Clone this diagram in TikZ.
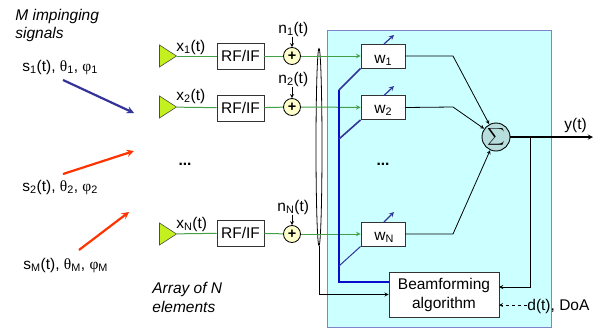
\documentclass[tikz,border=0pt]{standalone}
\usepackage{fontspec}
\setmainfont{Liberation Sans}
\newfontfamily\greekfont{Liberation Serif}
\usetikzlibrary{shapes.geometric}
\definecolor{panelfill}{HTML}{CCFFFF}
\definecolor{panelline}{HTML}{7F85CC}
\definecolor{antfill}{HTML}{C4F020}
\definecolor{sigline}{HTML}{44A044}
\definecolor{addfill}{HTML}{FFFFCC}
\definecolor{sumfill}{HTML}{B8DDDD}
\definecolor{busblue}{HTML}{0A0ACC}
\definecolor{tuneblue}{HTML}{333399}
\definecolor{rayred}{HTML}{FF3300}
\newcommand{\thta}{{\greekfont θ}}
\newcommand{\phii}{{\greekfont φ}}
\begin{document}
\begin{tikzpicture}
  [x=1pt,y=-1pt,>=stealth,line width=.8pt,
   every node/.style={font=\fontsize{15.5}{19}\selectfont},
   lbl/.style={anchor=base west,inner sep=0pt},
   ant/.style={isosceles triangle,isosceles triangle stretches,shape border rotate=0,draw=black!70,line width=.6pt,fill=antfill,minimum width=22pt,minimum height=17pt,inner sep=0pt},
   rfbox/.style={draw=black!80,fill=white,line width=.9pt,minimum width=47pt,minimum height=26pt,inner sep=0pt},
   wbox/.style={draw=black!80,fill=white,line width=.9pt,minimum width=44pt,minimum height=24pt,inner sep=0pt},
   adder/.style={circle,draw=black,fill=addfill,minimum size=17pt,inner sep=0pt},
   sig/.style={->,sigline,line width=1pt},
   ray/.style={->,line width=2.2pt},
   tune/.style={->,tuneblue,line width=1.2pt}]
  \useasboundingbox (0,0) rectangle (595,327);
  \node (panel)[draw=panelline,fill=panelfill,line width=1pt,minimum width=224pt,minimum height=297pt,inner sep=0pt] at (439,178.5) {};

  % antennas and front end
  \node (a1)[ant] at (165.5,56) {};
  \node (a2)[ant] at (165.5,107) {};
  \node (aN)[ant] at (165.5,234) {};
  \node (rf1)[rfbox] at (240.5,56) {RF/IF};
  \node (rf2)[rfbox] at (240.5,108) {RF/IF};
  \node (rfN)[rfbox] at (240.5,233) {RF/IF};
  \node (add1)[adder] at (292,56) {\Large\textbf{+}};
  \node (add2)[adder] at (292,107) {\Large\textbf{+}};
  \node (addN)[adder] at (292,234) {\Large\textbf{+}};
  \node (n1)[lbl] at (278,33) {n\textsubscript{1}(t)};
  \node (n2)[lbl] at (278,83) {n\textsubscript{2}(t)};
  \node (nN)[lbl] at (277,211) {n\textsubscript{N}(t)};
  \node (x1)[lbl] at (176,51) {x\textsubscript{1}(t)};
  \node (x2)[lbl] at (176,100) {x\textsubscript{2}(t)};
  \node (xN)[lbl] at (176,228) {x\textsubscript{N}(t)};

  % weights and combiner
  \node (w1)[wbox] at (383,56) {};
  \node (w2)[wbox] at (383,107.5) {};
  \node (wN)[wbox] at (383,234) {};
  \node (w1t)[lbl] at (374,63) {w\textsubscript{1}};
  \node (w2t)[lbl] at (374,113) {w\textsubscript{2}};
  \node (wNt)[lbl] at (374,240) {w\textsubscript{N}};
  \node (sum)[circle,draw=black,fill=sumfill,line width=.9pt,minimum size=28pt,inner sep=0pt] at (496,137) {\scalebox{1.2}{$\displaystyle\sum$}};
  \node (bf)[draw=black!80,fill=white,line width=.9pt,minimum width=110pt,minimum height=45pt,inner sep=0pt,align=center] at (444,294.5) {Beamforming\\algorithm};
  \node (split)[ellipse,draw=black,line width=.8pt,minimum width=6pt,minimum height=197pt,inner sep=0pt] at (319,147) {};
  \node (dots1) at (185,164) {\textbf{...}};
  \node (dots2) at (383,164) {\textbf{...}};
  \node (yt)[lbl] at (564,129) {y(t)};
  \node (dt)[lbl] at (527,310) {d(t), DoA};

  % signals
  \node (s1)[lbl] at (22,71) {s\textsubscript{1}(t), \thta\textsubscript{1}, \phii\textsubscript{1}};
  \node (s2)[lbl] at (22,191) {s\textsubscript{2}(t), \thta\textsubscript{2}, \phii\textsubscript{2}};
  \node (sM)[lbl] at (23,269) {s\textsubscript{M}(t), \thta\textsubscript{M}, \phii\textsubscript{M}};
  \node (mt)[lbl] at (15,20) {\textit{M impinging}};
  \node (mt2)[lbl] at (15,38) {\textit{signals}};
  \node (arr)[lbl] at (152,293) {\textit{Array of N}};
  \node (arr2)[lbl] at (152,312) {\textit{elements}};

  \coordinate (r1a) at (63,80);
  \coordinate (r1b) at (134,113);
  \coordinate (r2a) at (63,174);
  \coordinate (r2b) at (134,151);
  \coordinate (r3a) at (79,250);
  \coordinate (r3b) at (129,212);
  \coordinate (bend1) at (453,56);
  \coordinate (bend2) at (453,107);
  \coordinate (bendN) at (453,234);
  \coordinate (top) at (339,90);
  \coordinate (mid) at (339,139);
  \coordinate (low) at (339,266);
  \coordinate (corner) at (339,282);
  \coordinate (busin) at (389,282);
  \coordinate (tap) at (530,137);
  \coordinate (fb) at (499,287);
  \coordinate (out) at (593,137);
  \coordinate (dtin) at (499,305);
  \coordinate (dtend) at (527,305);
  \coordinate (t1a) at (384,44);
  \coordinate (t1b) at (394,35);
  \coordinate (t2a) at (384,95.5);
  \coordinate (t2b) at (394,86);
  \coordinate (tNa) at (384,222);
  \coordinate (tNb) at (394,212);

  \foreach \from/\to in {a1/rf1,a2/rf2,aN/rfN,rf1/add1,rf2/add2,rfN/addN}
    \draw[sigline,line width=1pt] (\from) -- (\to);
  \foreach \from/\to in {add1/w1,add2/w2,addN/wN}
    \draw[sig] (\from) -- (\to);
  \foreach \from/\to in {n1/add1,n2/add2,nN/addN}
    \draw[->,black] (\from.south -| \to) -- (\to);
  \foreach \from/\to in {t1a/t1b,t2a/t2b,tNa/tNb}
    \draw[tune] (\from) -- (\to);

  \draw[ray,tuneblue] (r1a) -- (r1b);
  \draw[ray,rayred] (r2a) -- (r2b);
  \draw[ray,rayred] (r3a) -- (r3b);

  \draw[line width=2pt,busblue] (top) -- (corner) -- (busin);
  \draw[line width=1.6pt,tuneblue] (top) -- (w1.south west);
  \draw[line width=1.6pt,tuneblue] (mid) -- (w2.south west);
  \draw[line width=1pt,tuneblue] (low) -- (wN.south west);

  \draw[->,black] (split.south) |- (bf.west);
  \draw[->,black] (w1.east) -- (bend1) -- (sum);
  \draw[->,black] (w2.east) -- (bend2) -- (sum);
  \draw[->,black] (wN.east) -- (bendN) -- (sum);
  \draw[->,black,line width=1.3pt] (sum) -- (out);
  \draw[->,black,line width=.9pt] (tap) |- (fb);
  \draw[->,black,dashed] (dtend) -- (dtin);
\end{tikzpicture}
\end{document}
